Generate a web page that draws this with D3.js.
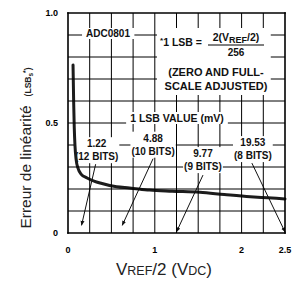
<!DOCTYPE html>
<html>
<head>
<meta charset="utf-8">
<script src="https://cdn.jsdelivr.net/npm/d3@7"></script>
<style>
  body { margin: 0; background: #fff; }
  svg text { font-family: "Liberation Sans", Arial, sans-serif; }
</style>
</head>
<body>
<svg width="304" height="289"></svg>
<script>
// curve: VREF/2 (V) vs linearity error (LSB)
var vref = [0.058, 0.065, 0.072, 0.08, 0.095, 0.115, 0.15, 0.22, 0.3, 0.37, 0.56, 0.71, 0.94, 1.2, 1.52, 1.8, 2.1, 2.3, 2.5];
var err  = [0.764, 0.60, 0.48, 0.40, 0.33, 0.295, 0.268, 0.25, 0.236, 0.227, 0.21, 0.205, 0.195, 0.19, 0.185, 0.175, 0.165, 0.16, 0.155];

var xTicks = [0, 1, 2, 2.5];
var xTickLabels = ["0", "1", "2", "2.5"];
var yTicks = [0, 0.5, 1.0];
var yTickLabels = ["0", "0.5", "1.0"];

// 1 LSB value annotations and the VREF/2 they point at
var lsbValues = ["1.22", "4.88", "9.77", "19.53"];
var lsbBits = ["(12 BITS)", "(10 BITS)", "(9 BITS)", "(8 BITS)"];
var lsbTarget = [0.156, 0.625, 1.25, 2.5];

var width = 304, height = 289,
    margin = {top: 13, right: 19, bottom: 56, left: 68};

var svg = d3.select("svg");

var scX = d3.scaleLinear()
    .domain([0, 2.5])
    .range([margin.left, width - margin.right]);

var scY = d3.scaleLinear()
    .domain([0, 1])
    .range([height - margin.bottom, margin.top]);

var gridX = d3.range(0, 11).map(i => i * 0.25);
var gridY = d3.range(0, 11).map(i => i * 0.1);

// tick labels
svg.append("g").selectAll("text")
    .data(xTicks).enter()
    .append("text")
    .attr("x", d => scX(d)).attr("y", scY(0) + 20)
    .attr("text-anchor", "middle")
    .attr("font-size", 9).attr("font-weight", "bold")
    .text((d, i) => xTickLabels[i]);

svg.append("g").selectAll("text")
    .data(yTicks).enter()
    .append("text")
    .attr("x", scX(0) - 10).attr("y", d => scY(d) + 3)
    .attr("text-anchor", "end")
    .attr("font-size", 9).attr("font-weight", "bold")
    .text((d, i) => yTickLabels[i]);

// text blocks; the grid is broken where they sit
var holes = [];
function boxed(g, pad) {
    var b = g.node().getBBox();
    holes.push([b.x - pad[0], b.y - pad[1], b.x + b.width + pad[0], b.y + b.height + pad[1]]);
}

var ann = svg.append("g").attr("font-weight", "bold").attr("fill", "#111");

var g1 = ann.append("g");
g1.append("text").attr("x", 108).attr("y", 37).attr("text-anchor", "middle")
    .attr("font-size", 10).text("ADC0801");
boxed(g1, [4, 0]);

var g2 = ann.append("g");
var t = g2.append("text").attr("x", 160).attr("y", 46).attr("font-size", 10.5);
t.append("tspan").attr("font-size", 8).attr("dy", -3).text("*");
t.append("tspan").attr("dy", 3).text("1 LSB =");
var num = g2.append("text").attr("x", 236).attr("y", 41).attr("text-anchor", "middle").attr("font-size", 10.5);
num.append("tspan").text("2(V");
num.append("tspan").attr("dy", 2).attr("font-size", 9).text("REF");
num.append("tspan").attr("dy", -2).text("/2)");
g2.append("line").attr("x1", 208).attr("x2", 264).attr("y1", 45).attr("y2", 45)
    .attr("stroke", "black").attr("stroke-width", 1);
g2.append("text").attr("x", 236).attr("y", 56).attr("text-anchor", "middle")
    .attr("font-size", 10).text("256");
g2.append("text").attr("x", 216).attr("y", 76).attr("text-anchor", "middle")
    .attr("font-size", 11).text("(ZERO AND FULL-");
g2.append("text").attr("x", 216).attr("y", 90).attr("text-anchor", "middle")
    .attr("font-size", 11).text("SCALE ADJUSTED)");
boxed(g2, [3, 3]);

var g3 = ann.append("g");
g3.append("text").attr("x", 177).attr("y", 122).attr("text-anchor", "middle")
    .attr("font-size", 10.5).text("1 LSB VALUE (mV)");
boxed(g3, [4, 0]);

// LSB value labels, placed in data coordinates
var labelAt = [[0.33, 0.39], [0.98, 0.415], [1.555, 0.345], [2.13, 0.395]];

lsbValues.forEach(function(v, i) {
    var g = ann.append("g");
    var cx = scX(labelAt[i][0]), cy = scY(labelAt[i][1]);
    g.append("text").attr("x", cx).attr("y", cy).attr("text-anchor", "middle")
        .attr("font-size", 10).text(v);
    g.append("text").attr("x", cx).attr("y", cy + 13).attr("text-anchor", "middle")
        .attr("font-size", 10).text(lsbBits[i]);
    boxed(g, [1, 1]);
});

// curve
var lineMaker = d3.line()
    .x((d, i) => scX(vref[i]))
    .y(d => scY(d))
    .curve(d3.curveMonotoneX);

svg.append("path")
    .attr("fill", "none").attr("stroke", "#1c1c1c")
    .attr("stroke-width", 3).attr("stroke-linecap", "round")
    .attr("d", lineMaker(err));

svg.append("defs").append("marker")
    .attr("id", "ah").attr("viewBox", "0 0 10 10")
    .attr("refX", 9).attr("refY", 5)
    .attr("markerWidth", 5).attr("markerHeight", 5)
    .attr("orient", "auto")
    .append("path").attr("d", "M0,1 L10,5 L0,9 Z").attr("fill", "#111");

var arrowFrom = [[-1, 17], [0, 17], [0, 18], [-1, 17]];
svg.append("g").selectAll("line")
    .data(lsbTarget).enter()
    .append("line")
    .attr("x1", (d, i) => scX(labelAt[i][0]) + arrowFrom[i][0])
    .attr("y1", (d, i) => scY(labelAt[i][1]) + arrowFrom[i][1])
    .attr("x2", d => scX(d))
    .attr("y2", (d, i) => i < 2 ? scY(0.035) : scY(0.005))
    .attr("stroke", "#111").attr("stroke-width", 1)
    .attr("marker-end", "url(#ah)");

// axis titles
var yt = svg.append("text")
    .attr("transform", "translate(31," + scY(0.02) + ") rotate(-90)")
    .attr("fill", "#222");
yt.append("tspan").attr("font-size", 15.5).text("Erreur de linéarité");
yt.append("tspan").attr("dx", 9).attr("font-size", 8.5).attr("font-weight", "bold").text("(LSB");
yt.append("tspan").attr("font-size", 6.5).attr("font-weight", "bold").attr("dy", 2).text("s");
yt.append("tspan").attr("font-size", 7).attr("font-weight", "bold").attr("dy", -5).text("*");
yt.append("tspan").attr("font-size", 8.5).attr("font-weight", "bold").attr("dy", 3).text(")");

var xt = svg.append("text")
    .attr("x", 164).attr("y", 275).attr("text-anchor", "middle")
    .attr("fill", "#222").attr("font-size", 17);
xt.append("tspan").text("V");
xt.append("tspan").attr("font-size", 12.5).text("REF");
xt.append("tspan").text("/2 (V");
xt.append("tspan").attr("font-size", 12.5).text("DC");
xt.append("tspan").text(")");

// grid, drawn last as plain lines, split around the text blocks
function cut(a, b, gaps) {
    var segs = [[a, b]];
    gaps.forEach(function(c) {
        segs = segs.flatMap(function(s) {
            if (c[1] <= s[0] || c[0] >= s[1]) return [s];
            var out = [];
            if (c[0] > s[0]) out.push([s[0], c[0]]);
            if (c[1] < s[1]) out.push([c[1], s[1]]);
            return out;
        });
    });
    return segs;
}

var inner = [];
gridX.slice(1, -1).forEach(function(d) {
    var x = scX(d);
    var gaps = holes.filter(h => x > h[0] && x < h[2]).map(h => [h[1], h[3]]);
    cut(scY(1), scY(0), gaps).forEach(s => inner.push({x1: x, x2: x, y1: s[0], y2: s[1]}));
});
gridY.slice(1, -1).forEach(function(d) {
    var y = scY(d);
    var gaps = holes.filter(h => y > h[1] && y < h[3]).map(h => [h[0], h[2]]);
    cut(scX(0), scX(2.5), gaps).forEach(s => inner.push({x1: s[0], x2: s[1], y1: y, y2: y}));
});

svg.append("g").selectAll("line")
    .data(inner).enter()
    .append("line")
    .attr("x1", d => d.x1).attr("x2", d => d.x2)
    .attr("y1", d => d.y1).attr("y2", d => d.y2)
    .attr("stroke", "black").attr("stroke-width", 1);

// frame
var frame = [
    [scX(0), scY(0), scX(0), scY(1)],
    [scX(0), scY(1), scX(2.5), scY(1)],
    [scX(2.5), scY(1), scX(2.5), scY(0)],
    [scX(2.5), scY(0), scX(0), scY(0)]
];
svg.append("g").selectAll("line")
    .data(frame).enter()
    .append("line")
    .attr("x1", d => d[0]).attr("y1", d => d[1])
    .attr("x2", d => d[2]).attr("y2", d => d[3])
    .attr("stroke", "black").attr("stroke-width", 1.6)
    .attr("stroke-linecap", "square");
</script>
</body>
</html>
